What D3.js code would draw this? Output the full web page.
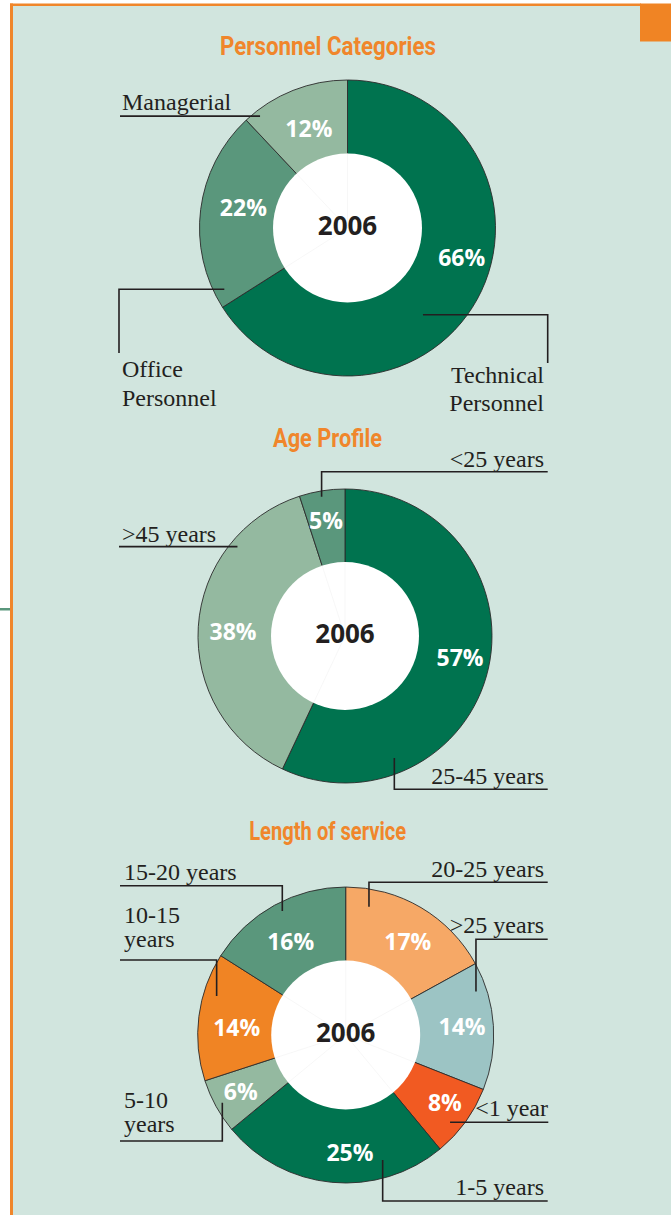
<!DOCTYPE html>
<html lang="en">
<head>
  <meta charset="UTF-8">
  <title>Personnel 2006</title>
  <script src="https://d3js.org/d3.v7.min.js"></script>
  <style>
    body { margin: 0; background: #fff; }
    .lbl { font-family: "Liberation Serif", "DejaVu Serif", serif; font-size: 24px; fill: #231f20; }
    .pct { font-family: "Open Sans", "Noto Sans", sans-serif; font-weight: bold; font-size: 23px; fill: #fff; }
    .yr { font-family: "Open Sans", "Noto Sans", sans-serif; font-weight: bold; font-size: 26px; fill: #231f20; }
    .ttl { font-family: Roboto, "Liberation Sans", sans-serif; font-weight: bold; font-size: 26px; fill: #f0862b; }
  </style>
</head>
<body>
  <svg id="chart" width="671" height="1215"></svg>
  <script>
    // ---- data ----
    const year = "2006";

    const personnelCats = ["Technical Personnel", "Office Personnel", "Managerial"];
    const personnelVals = [66, 22, 12];

    const ageCats = ["25-45 years", ">45 years", "<25 years"];
    const ageVals = [57, 38, 5];

    const serviceCats = ["20-25 years", ">25 years", "<1 year", "1-5 years", "5-10 years", "10-15 years", "15-20 years"];
    const serviceVals = [17, 14, 8, 25, 6, 14, 16];

    // ---- styles ----
    const dark = "#00734f", mid = "#5a977c", light = "#94b9a0";
    const personnelColors = [dark, mid, light];
    const ageColors = [dark, light, mid];
    const serviceColors = ["#f6a866", "#9cc4c4", "#f15a22", dark, light, "#f08424", mid];

    const svg = d3.select("#chart");

    // page frame
    svg.append("rect").attr("x", 11).attr("y", 4).attr("width", 660).attr("height", 1211).attr("fill", "#d1e5de");
    svg.append("line").attr("x1", 10).attr("x2", 641).attr("y1", 4.8).attr("y2", 4.8)
       .attr("stroke", "#f0862b").attr("stroke-width", 2.6);
    svg.append("line").attr("x1", 11.5).attr("x2", 11.5).attr("y1", 3.5).attr("y2", 1215)
       .attr("stroke", "#f0862b").attr("stroke-width", 3);
    svg.append("rect").attr("x", 640).attr("y", 3.5).attr("width", 31).attr("height", 38).attr("fill", "#f08424");
    svg.append("rect").attr("x", 0).attr("y", 608).attr("width", 10).attr("height", 2.5).attr("fill", mid);

    function drawDonut(cats, vals, colors, lay) {
      const pie = d3.pie().sort(null).value(d => d.v);
      const arcs = pie(cats.map((c, i) => ({c: c, v: vals[i]})));
      const arc = d3.arc().innerRadius(0).outerRadius(lay.r);
      const g = svg.append("g").attr("transform", `translate(${lay.cx},${lay.cy})`);

      svg.append("text").attr("class", "ttl")
         .attr("x", lay.titleX).attr("y", lay.titleY)
         .attr("text-anchor", "middle")
         .attr("textLength", lay.titleW).attr("lengthAdjust", "spacingAndGlyphs")
         .text(lay.title);

      g.selectAll("path.slice").data(arcs).join("path")
       .attr("class", "slice")
       .attr("d", arc)
       .attr("fill", (d, i) => colors[i])
       .attr("stroke", "#2b2b2b")
       .attr("stroke-width", 0.9);

      // faint slice edges through the hole
      g.append("circle").attr("r", lay.ri).attr("fill", "#fff");
      g.selectAll("line.ghost").data(arcs).join("line")
       .attr("class", "ghost")
       .attr("x2", d => d3.pointRadial(d.startAngle, lay.ri)[0])
       .attr("y2", d => d3.pointRadial(d.startAngle, lay.ri)[1])
       .attr("stroke", "#f1f1f1").attr("stroke-width", 0.6);

      g.append("text").attr("class", "yr")
       .attr("text-anchor", "middle").attr("dy", "0.36em")
       .attr("y", -2)
       .text(year);

      // percentage labels
      g.selectAll("text.pct").data(arcs).join("text")
       .attr("class", "pct")
       .attr("text-anchor", "middle").attr("dy", "0.36em")
       .attr("transform", (d, i) => {
         const [t, r] = lay.pct[i];
         const p = d3.pointRadial(d.startAngle + t * (d.endAngle - d.startAngle), r);
         return `translate(${p[0]},${p[1]})`;
       })
       .text(d => d.data.v + "%");

      // leader lines and category labels
      arcs.forEach((d, i) => {
        const L = lay.leaders[i];
        const p = d3.pointRadial(d.startAngle + L.t * (d.endAngle - d.startAngle), L.r);
        let x = lay.cx + p[0], y = lay.cy + p[1];
        const pts = [[x, y]];
        L.route.forEach(([k, v]) => {
          if (k === "h") x = v; else y = v;
          pts.push([x, y]);
        });
        svg.append("path")
           .attr("d", d3.line()(pts))
           .attr("fill", "none")
           .attr("stroke", "#231f20")
           .attr("stroke-width", 1.6);
        L.lines.forEach((s, j) => {
          svg.append("text").attr("class", "lbl")
             .attr("x", L.tx).attr("y", L.ty + j * L.lh)
             .attr("text-anchor", L.anchor)
             .text(s);
        });
      });
    }

    drawDonut(personnelCats, personnelVals, personnelColors, {
      title: "Personnel Categories", titleX: 328, titleY: 55, titleW: 216,
      cx: 347.5, cy: 228, r: 148, ri: 74.5,
      pct: [[0.44, 118], [0.545, 106], [0.51, 107]],
      leaders: [
        {t: 0.585, r: 115, route: [["h", 547.7], ["v", 363]], lines: ["Technical", "Personnel"], tx: 544, ty: 383, lh: 28, anchor: "end"},
        {t: 0.075, r: 137.6, route: [["h", 119], ["v", 353]], lines: ["Office", "Personnel"], tx: 122, ty: 377, lh: 28.5, anchor: "start"},
        {t: 0.12, r: 142, route: [["h", 120]], lines: ["Managerial"], tx: 122, ty: 110, lh: 0, anchor: "start"}
      ]
    });

    drawDonut(ageCats, ageVals, ageColors, {
      title: "Age Profile", titleX: 327.5, titleY: 447, titleW: 109,
      cx: 345, cy: 636, r: 147, ri: 74,
      pct: [[0.49, 117], [0.49, 112], [0.48, 117]],
      leaders: [
        {t: 0.77, r: 131.7, route: [["v", 789.3], ["h", 547.7]], lines: ["25-45 years"], tx: 544, ty: 784, lh: 0, anchor: "end"},
        {t: 0.764, r: 139.8, route: [["h", 119]], lines: [">45 years"], tx: 122, ty: 541.5, lh: 0, anchor: "start"},
        {t: 0.47, r: 141.2, route: [["v", 471.7], ["h", 547.7]], lines: ["<25 years"], tx: 544, ty: 466.5, lh: 0, anchor: "end"}
      ]
    });

    drawDonut(serviceCats, serviceVals, serviceColors, {
      title: "Length of service", titleX: 327.7, titleY: 840, titleW: 157,
      cx: 345.7, cy: 1035, r: 148, ri: 74.5,
      pct: [[0.55, 112], [0.49, 116.6], [0.44, 120], [0.417, 117.8], [0.52, 119.3], [0.43, 109.2], [0.47, 108.3]],
      leaders: [
        {t: 0.168, r: 130.4, route: [["v", 882.3], ["h", 547.7]], lines: ["20-25 years"], tx: 544, ty: 877, lh: 0, anchor: "end"},
        {t: 0.206, r: 137.3, route: [["v", 939.3], ["h", 547.7]], lines: [">25 years"], tx: 544, ty: 933, lh: 0, anchor: "end"},
        {t: 0.635, r: 136, route: [["h", 548.3]], lines: ["<1 year"], tx: 548, ty: 1116, lh: 0, anchor: "end"},
        {t: 0.257, r: 130.4, route: [["v", 1201], ["h", 547.7]], lines: ["1-5 years"], tx: 544, ty: 1195, lh: 0, anchor: "end"},
        {t: 0.50, r: 140.8, route: [["v", 1141], ["h", 120]], lines: ["5-10", "years"], tx: 124, ty: 1108, lh: 24, anchor: "start"},
        {t: 0.69, r: 134.8, route: [["v", 960], ["h", 120]], lines: ["10-15", "years"], tx: 124, ty: 923, lh: 24, anchor: "start"},
        {t: 0.53, r: 139.3, route: [["v", 885.7], ["h", 120]], lines: ["15-20 years"], tx: 124, ty: 880, lh: 0, anchor: "start"}
      ]
    });
  </script>
</body>
</html>
